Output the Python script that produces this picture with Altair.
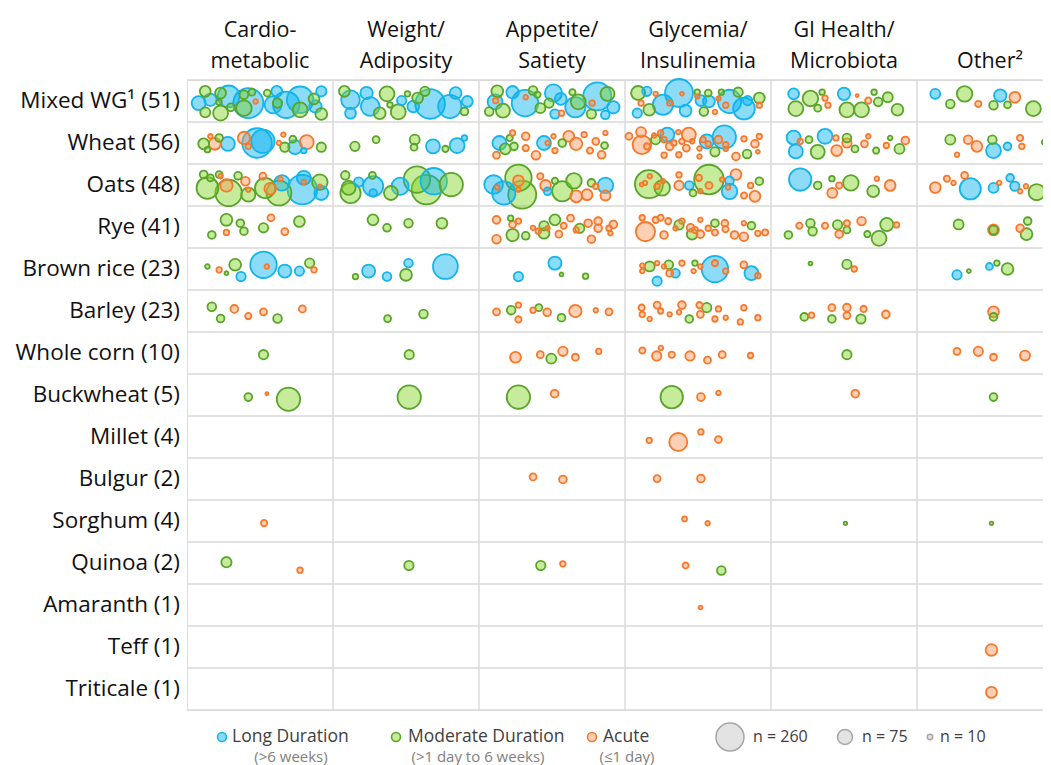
import altair as alt
import pandas as pd

# ---------------- data ----------------
grains = ["Mixed WG¹", "Wheat", "Oats", "Rye", "Brown rice", "Barley", "Whole corn",
          "Buckwheat", "Millet", "Bulgur", "Sorghum", "Quinoa", "Amaranth", "Teff", "Triticale"]
study_counts = [51, 56, 48, 41, 23, 23, 10, 5, 4, 2, 4, 2, 1, 1, 1]
outcomes = ["Cardio-\nmetabolic", "Weight/\nAdiposity", "Appetite/\nSatiety",
            "Glycemia/\nInsulinemia", "GI Health/\nMicrobiota", "Other²"]
durations = ["L", "M", "A"]
duration_labels = ["Long Duration", "Moderate Duration", "Acute"]
duration_notes = ["(>6 weeks)", "(>1 day to 6 weeks)", "(≤1 day)"]
size_keys = [260, 75, 10]

# each study: (duration, position across cell %, position down row %, n)
cardiometabolic = {
    0: [("M",12.5,27,39),("L",8,55,65),("L",16,47,51),("M",23,31,39),("L",28.5,39,157),("M",23,79,74),
        ("M",12.5,77,33),("M",22,53,10),("M",30,65,20),("L",42,55,300),("M",39,35,25),("M",44.5,29,16),
        ("M",39,67,80),("A",47,51,7),("M",55,31,16),("L",61.5,27,39),("L",59,59,97),("M",62,55,29),
        ("L",68,59,232),("L",77.5,47,232),("M",77.5,71,74),("L",92,27,35),("M",87,45,39),("L",88,63,51),
        ("M",92,81,46)],
    1: [("A",16,34,7),("M",11.4,52,39),("A",19,52,46),("M",22,38,20),("M",14,66,10),("L",28,52,65),
        ("A",39,38,51),("A",42,58,10),("L",48,50,290),("L",52,46,180),("A",66,30,7),("A",63,50,7),
        ("M",67,60,29),("M",72.5,41,16),("L",74,60,65),("A",82,48,65),("M",92,60,29),("L",80,68,10)],
    2: [("M",11.4,25,20),("M",16,33,16),("M",14,57,157),("A",23,29,7),("M",22,25,16),("A",27,51,51),
        ("M",28.5,69,232),("M",35,28,20),("A",40,41,25),("A",42,61,7),("M",42,73,65),("A",52,29,16),
        ("M",53.5,57,136),("A",57,59,46),("M",63,69,205),("L",65,45,80),("A",64,36,7),("L",79,61,290),
        ("A",80,43,7),("M",91,43,80),("A",91,53,5),("L",92,69,65),("L",80,33,65)],
    3: [("M",27,33,46),("M",36.5,41,20),("M",39,60,20),("A",27,63,10),("M",17,69,20),("A",57.5,28,16),
        ("M",52.4,52,29),("A",67,61,16),("M",77,37,39)],
    4: [("M",14,44,7),("A",22,52,10),("M",27,60,5),("M",33,40,46),("L",37,68,29),("L",52.4,40,232),
        ("A",54.7,44,7),("L",67,55,57),("L",77,55,29),("M",84,36,29),("A",87,52,10)],
    5: [("M",17,40,25),("M",23,68,20),("A",32.4,45,20),("A",42,62,13),("A",52.4,52,16),("M",62,68,25),
        ("A",79,45,16)],
    6: [("M",52.4,54,29)],
    7: [("M",42,55,20),("A",54.7,47,3),("M",69.5,60,180)],
    10: [("A",52.8,55,13)],
    11: [("M",27,48,35),("A",77.4,67,10)],
}

weight = {
    0: [("M",7.8,27,39),("L",12,47,116),("L",12,79,39),("L",23,31,51),("L",25.5,63,116),("M",32,79,46),
        ("M",37,33,74),("M",39,59,10),("M",44.7,76,74),("L",47,49,29),("M",51,33,10),("L",55,63,46),
        ("M",58,43,39),("M",63,27,29),("L",66.5,57,290),("L",80,63,180),("L",84,31,46),("L",92,51,39),
        ("M",90,75,20)],
    1: [("M",15,58,29),("M",29.5,42,16),("M",56,42,33),("M",55.5,60,16),("L",68.5,58,65),("M",77,64,13),
        ("L",85,56,74),("L",90,38,10)],
    2: [("M",8.4,27,25),("M",12,69,136),("L",17.6,43,29),("M",10.7,57,65),("L",27.5,53,136),("L",27.5,69,20),
        ("M",27,27,16),("M",39.7,69,65),("L",46,53,97),("M",57.5,37,232),("L",69,41,232),("M",64,61,290),
        ("M",81,49,180)],
    3: [("M",27.4,33,39),("M",37,52,20),("M",51.7,41,25),("M",74.6,41,39)],
    4: [("M",15.4,68,10),("L",24.4,55,57),("L",37,68,25),("L",51.7,36,25),("M",50,64,46),("L",77,44,205)],
    5: [("M",37.4,68,16),("M",62,57,25)],
    6: [("M",52.2,54,29)],
    7: [("M",52.2,55,180)],
    11: [("M",52,56,29)],
}

appetite = {
    0: [("M",12.5,27,46),("L",11,52,74),("A",11.4,49,10),("M",7,75,25),("M",16.4,73,65),("L",23,29,51),
        ("L",31.5,55,232),("A",32,41,7),("M",37,25,25),("M",40,35,13),("M",42,67,33),("L",51,31,97),
        ("M",48,55,29),("L",52,81,29),("L",56,45,46),("A",56.5,79,10),("M",64,29,13),("L",66,65,136),
        ("M",68,52,74),("L",81,39,260),("A",77.5,55,10),("M",88,33,65),("L",92,65,51),("L",86.5,83,25),
        ("M",77,81,29)],
    1: [("A",23,26,10),("M",21,38,13),("L",14,50,65),("M",18,64,39),("M",24,58,20),("A",12,79,16),
        ("A",32,34,20),("A",32,62,13),("A",39,79,25),("L",44.5,50,65),("A",47,50,7),("A",51,34,7),
        ("A",52,68,10),("M",57,50,20),("A",61.5,34,39),("A",66.5,52,51),("A",72,30,10),("A",76,68,13),
        ("A",80,46,16),("A",86.6,26,7),("M",86,56,16),("A",84,78,20)],
    2: [("L",10,49,116),("L",17,69,180),("A",12.5,56,7),("M",27,33,232),("A",27,40,39),("A",27,61,7),
        ("M",29.6,73,260),("A",42,29,13),("A",45.6,51,39),("L",47,65,20),("M",52,40,13),("M",57,65,136),
        ("M",65,40,80),("A",66.6,77,46),("A",74,73,39),("M",77,45,20),("A",80,53,10),("L",86.6,51,80),
        ("A",86.6,75,33)],
    3: [("A",12,33,20),("M",21.7,29,10),("A",23,44,16),("A",27,36,10),("A",12,79,25),("M",23,69,51),
        ("M",32,71,20),("A",37,52,7),("A",40.6,60,10),("M",44.5,47,29),("M",44.5,65,39),("A",47,53,7),
        ("M",52,33,39),("A",54.7,67,16),("A",58,47,13),("A",62.7,29,16),("A",66.6,57,10),("M",69,53,29),
        ("A",74.8,41,20),("A",81.6,36,20),("A",81.6,53,20),("A",77,79,20),("A",89,53,10),("A",90,65,7),
        ("A",92,44,20)],
    4: [("L",27,68,29),("L",52,36,57),("M",56.5,63,5),("M",73,67,10)],
    5: [("A",12,52,16),("M",22,48,25),("A",27,36,10),("A",27,70,13),("A",37,48,10),("M",41,42,16),
        ("A",46.7,53,20),("M",56.5,66,20),("A",66,50,51),("A",80,48,7),("A",89,52,16)],
    6: [("A",25,60,39),("A",42,54,16),("M",49.5,63.5,33),("A",57.5,46,29),("A",66,60,16),("A",82,46,10)],
    7: [("M",27,55,180),("A",51.8,47,20)],
    9: [("A",37,45,16),("A",57.5,51,20)],
    11: [("M",42.3,56,29),("A",57.4,52,10)],
}

glycemia = {
    0: [("M",9,31,65),("L",15,27,29),("A",11,55,10),("M",16.6,71,46),("L",8.4,79,29),("A",21,33,7),
        ("L",26,59,136),("A",30.6,55,10),("L",37,31,260),("A",39,33,5),("L",41.5,73,46),("M",49.5,29,10),
        ("M",57,31,16),("L",52,49,39),("L",57.5,51,46),("M",54,75,25),("A",49.5,39,7),("M",66,29,10),
        ("A",64,44,7),("A",61.6,76,7),("L",71.6,51,180),("A",69,60,10),("M",77.5,29,29),("L",81.5,68,157),
        ("L",84,49,29),("M",92,43,39),("A",92,60,10)],
    1: [("A",11,24,33),("A",2.7,34,16),("A",11.6,54,116),("A",15,58,13),("M",21,42,29),("A",24.4,26,10),
        ("A",20,32,7),("L",29,30,65),("A",26.8,42,10),("A",30.6,58,20),("A",33.5,50,10),("A",26.8,79,10),
        ("A",36.5,24,7),("A",43.7,30,65),("A",39,46,10),("A",42,62,16),("A",36.9,78,10),("A",46,46,7),
        ("A",51,63,7),("A",51,82,7),("L",56,46,65),("A",53.5,42,10),("A",57,52,10),("L",68,36,180),
        ("A",64,42,20),("A",69,54,10),("A",69,64,7),("M",61.6,71,29),("A",76,82,20),("A",81.5,40,10),
        ("A",89,52,20),("A",92,34,10),("M",83.6,76,25),("A",91,71,5)],
    2: [("M",16.4,48,260),("A",17,29,7),("A",13.7,45,7),("A",11.4,49,5),("A",22,53,10),("M",25.5,57,80),
        ("A",26,41,7),("A",37,26,10),("A",37,51,29),("L",44,51,25),("M",57.5,37,290),("A",50.6,33,13),
        ("A",57.5,51,16),("A",51.6,65,7),("M",46.6,69,16),("A",66.5,37,7),("L",71.6,40,25),("L",71.6,65,80),
        ("A",76,25,39),("A",70.6,56,7),("A",81.5,75,13),("A",86,51,10),("M",92,41,20),("A",89,77,39)],
    3: [("A",11.8,28,10),("A",14,61,123),("A",21,33,13),("A",24.4,28,13),("A",26.7,69,20),("A",29.6,36,13),
        ("M",37,45,29),("A",34.6,53,7),("A",39,36,10),("A",44.9,52,20),("M",46,67,39),("A",47.9,57,13),
        ("A",51.6,33,7),("A",51.6,67,20),("A",57,53,10),("M",61.6,41,20),("A",61.6,63,13),("A",68.4,41,16),
        ("A",68.8,55,13),("A",75,69,20),("A",81.4,73,25),("A",81.4,41,7),("M",86.6,47,20),("A",91,65,10),
        ("A",96,63,13)],
    4: [("A",11.8,42,7),("A",11.8,55,7),("M",16.9,44,33),("A",22,36,7),("M",30,40,25),("A",26.7,44,7),
        ("A",30.6,60,16),("L",34.6,60,25),("L",22,79,29),("A",39,36,10),("M",47.9,36,10),("A",47,55,7),
        ("A",51.6,44,7),("L",61.6,50,232),("A",61.6,36,13),("A",69,55,10),("A",81.4,40,16),("L",86.6,60,65),
        ("A",91,66,10)],
    5: [("A",11.4,42,13),("A",11.8,58,10),("A",16.9,69,7),("A",22,36,16),("A",24.4,50,10),("A",30.6,58,7),
        ("A",37,53,7),("A",39,36,20),("M",44,69,20),("A",51,36,13),("A",51.6,58,16),("M",56,42,29),
        ("A",61.6,69,10),("A",64,45,10),("A",69,66,7),("A",79,76,10),("A",81.4,42,10),("A",91,66,10)],
    6: [("A",11.9,44,13),("A",24.6,38,7),("A",21.7,57,29),("A",32,54,13),("A",44.5,57,29),("A",56.5,67,16),
        ("A",66.6,54,16),("A",86,56,10)],
    7: [("M",32,55,166),("A",52,55,20),("A",64,45,7)],
    8: [("A",16.6,58,10),("A",36.5,62,108),("A",52,38,10),("A",64,56,16)],
    9: [("A",22,49,16),("A",52,49,20)],
    10: [("A",40.8,45,8),("A",56.6,55.5,7)],
    11: [("A",41.5,56,12),("M",66,68,25)],
    12: [("A",51.7,56,5)],
}

gi_health = {
    0: [("L",15.5,33,39),("M",17,68,74),("M",27,44,80),("M",32,67,16),("M",35,29,10),("A",37,43,10),
        ("A",39,60,10),("L",50,33,51),("M",52,71,74),("A",59,37,3),("M",62,71,74),("A",66.6,49,13),
        ("M",70.6,29,10),("M",73.4,52,25),("M",80,41,33),("M",86.6,71,46)],
    1: [("L",15.5,37,65),("L",17,70,65),("A",20,46,10),("M",26,42,16),("L",37,34,74),("M",32,71,65),
        ("A",44.5,38,10),("M",52,38,25),("A",52,50,29),("A",45,68,39),("M",57.5,64,16),("A",64,52,16),
        ("A",66.6,34,7),("M",72,68,13),("A",79,56,10),("M",81.6,38,7),("M",88,64,33),("A",92,44,20)],
    2: [("L",20,37,166),("M",32,51,20),("M",41.7,35,10),("A",46.7,51,13),("A",42,69,33),("M",54.7,45,80),
        ("M",70,65,46),("A",72.5,35,7),("A",81.6,51,39)],
    3: [("M",11.9,69,20),("A",19.4,47,13),("M",27,41,25),("M",28.5,60,25),("A",37,47,13),("M",45.6,45,29),
        ("A",52,41,13),("M",52,57,16),("A",46.7,67,20),("A",62,36,25),("M",66,67,13),("M",79.3,44,57),
        ("M",74,77,74),("A",86,45,10)],
    4: [("M",27,37,5),("M",52,39,29),("A",57,50,10)],
    5: [("M",22.8,64,20),("A",27.8,60,10),("A",41.7,42,16),("M",41.7,69,20),("A",52,42,20),("A",52,61,16),
        ("A",63.4,45,13),("M",61.6,69,29),("A",78.7,58,20)],
    6: [("M",52,54,29)],
    7: [("A",57.7,47,20)],
    10: [("M",51,55.5,4)],
}

other = {
    0: [("L",12.5,33,33),("M",22.8,57,25),("M",32.6,33,80),("A",42,57,13),("M",52.4,60,25),("L",57,37,51),
        ("M",62,59,16),("A",67,41,39),("M",79.7,68,74)],
    1: [("M",22.8,42,33),("A",27.4,78,7),("A",35,42,25),("A",41,58,39),("M",51.6,42,25),("L",52.4,68,74),
        ("L",62,58,20),("A",70.6,38,13),("A",71.8,58,10),("M",87,48,7)],
    2: [("A",12.5,56,39),("A",20.5,35,13),("A",25,45,7),("A",32.6,27,16),("L",36.5,59,148),("L",52.4,57,33),
        ("A",56.3,45,7),("L",63.8,33,20),("L",67,53,29),("A",70.6,65,7),("A",74.6,53,7),("M",82,67,87)],
    3: [("M",28.5,44,33),("M",52.4,57,25),("A",52.4,57,39),("A",70.6,53,20),("M",75.8,36,20),("M",75,67,46)],
    4: [("L",27.4,64,29),("M",35.5,55,5),("L",49.6,44,16),("M",54.7,36,10),("M",62,50,46)],
    5: [("A",52.4,52,39),("M",52.4,64,20)],
    6: [("A",27.4,46,16),("A",42,46,29),("A",52.4,60,16),("A",74,56,33)],
    7: [("M",52.4,55,20)],
    10: [("M",51,55.5,4)],
    13: [("A",51,57,45)],
    14: [("A",51,58,40)],
}

# ---------------- tables ----------------
records = []
for ci, table in enumerate([cardiometabolic, weight, appetite, glycemia, gi_health, other]):
    for ri, items in table.items():
        for dur, xp, yp, n in items:
            records.append({"outcome": outcomes[ci].replace("\n", ""), "grain": grains[ri],
                            "col": ci, "row": ri, "dur": dur, "xp": xp, "yp": yp, "n": n})
studies = pd.DataFrame(records).sort_values("n", ascending=False, kind="stable")

row_df = pd.DataFrame({"label": [f"{g} ({c})" for g, c in zip(grains, study_counts)],
                       "r": [i + 0.5 for i in range(len(grains))]})
# single-line headers sit on the second header line
col_df = pd.DataFrame({"label": [o if "\n" in o else "\n" + o for o in outcomes],
                       "c": [i + 0.5 for i in range(len(outcomes))]})
hlines = pd.DataFrame({"b": list(range(len(grains) + 1))})
vlines = pd.DataFrame({"b": list(range(1, len(outcomes)))})

# ---------------- layout / style ----------------
COLW, ROWH = 146, 42
PAD_L, PAD_T = 179, 72
CANVAS_W, CANVAS_H = 1035, 762
W = CANVAS_W - PAD_L
H = round(ROWH * len(grains))
FONT = "Open Sans"
GRID = "#d9d9d9"
TXT = "#111111"

xs = alt.Scale(domain=[0, W / COLW], nice=False, zero=False)
ys = alt.Scale(domain=[0, len(grains)], nice=False, zero=False, reverse=True)
size_scale = alt.Scale(domain=[0, 260], range=[0, 784], zero=True)
fill_scale = alt.Scale(domain=durations, range=["#00b0f0", "#7ed321", "#fb975b"])
stroke_scale = alt.Scale(domain=durations, range=["#15b4ea", "#5aa42b", "#f8782a"])

h_rules = alt.Chart(hlines).mark_rule(color=GRID, strokeWidth=1.7).encode(
    y=alt.Y("b:Q", scale=ys, axis=None), x=alt.value(0), x2=alt.value(W))
v_rules = alt.Chart(vlines).mark_rule(color=GRID, strokeWidth=1.4).encode(
    x=alt.X("b:Q", scale=xs, axis=None), y=alt.value(0), y2=alt.value(H))

bubbles = alt.Chart(studies).transform_calculate(
    xpos="datum.col + datum.xp / 100", ypos="datum.row + datum.yp / 100"
).mark_point(shape="circle", filled=True, fillOpacity=0.45, strokeOpacity=1,
             strokeWidth=1.8, opacity=1).encode(
    x=alt.X("xpos:Q", scale=xs, axis=None),
    y=alt.Y("ypos:Q", scale=ys, axis=None),
    size=alt.Size("n:Q", scale=size_scale, legend=None),
    fill=alt.Fill("dur:N", scale=fill_scale, legend=None),
    stroke=alt.Stroke("dur:N", scale=stroke_scale, legend=None),
)

row_labels = alt.Chart(row_df).mark_text(
    align="right", baseline="middle", font=FONT, fontSize=22.5, color=TXT).encode(
    y=alt.Y("r:Q", scale=ys, axis=None), x=alt.value(-7), text="label:N")

col_labels = alt.Chart(col_df).mark_text(
    align="center", baseline="alphabetic", font=FONT, fontSize=21.5, lineHeight=31,
    lineBreak="\n", color=TXT).encode(
    x=alt.X("c:Q", scale=xs, axis=None), y=alt.value(-43), text="label:N")

# legend (custom, below the grid)
LEG_Y = H + 27
leg_sym_x = [35, 209, 405]
leg_lab_x = [45, 221, 416]
leg_note_x = [104, 291, 440]
layers = []
for i, d in enumerate(durations):
    one = pd.DataFrame({"dur": [d], "label": [duration_labels[i]], "note": [duration_notes[i]]})
    base = alt.Chart(one)
    layers.append(base.mark_point(shape="circle", filled=True, fillOpacity=0.45, strokeOpacity=1,
                                  strokeWidth=1.6, opacity=1, size=80).encode(
        x=alt.value(leg_sym_x[i]), y=alt.value(LEG_Y),
        fill=alt.Fill("dur:N", scale=fill_scale, legend=None),
        stroke=alt.Stroke("dur:N", scale=stroke_scale, legend=None)))
    layers.append(base.mark_text(align="left", baseline="middle", font=FONT, fontSize=17.5,
                                 color="#404040").encode(
        x=alt.value(leg_lab_x[i]), y=alt.value(LEG_Y), text="label:N"))
    layers.append(base.mark_text(align="center", baseline="middle", font=FONT, fontSize=15,
                                 color="#808080").encode(
        x=alt.value(leg_note_x[i]), y=alt.value(LEG_Y + 20), text="note:N"))

size_sym_x = [543, 658, 743]
size_lab_x = [566, 675, 753]
for i, n in enumerate(size_keys):
    one = pd.DataFrame({"n": [n], "label": [f"n = {n}"]})
    base = alt.Chart(one)
    layers.append(base.mark_point(shape="circle", filled=True, fill="#e3e3e3", stroke="#a6a6a6",
                                  strokeWidth=1.5, opacity=1, fillOpacity=1).encode(
        x=alt.value(size_sym_x[i]), y=alt.value(LEG_Y),
        size=alt.Size("n:Q", scale=size_scale, legend=None)))
    layers.append(base.mark_text(align="left", baseline="middle", font=FONT, fontSize=16,
                                 color="#404040").encode(
        x=alt.value(size_lab_x[i]), y=alt.value(LEG_Y), text="label:N"))

chart = alt.layer(h_rules, v_rules, bubbles, row_labels, col_labels, *layers).properties(
    width=W, height=H,
    autosize=alt.AutoSizeParams(type="none"),
    padding={"left": PAD_L, "top": PAD_T, "right": CANVAS_W - PAD_L - W,
             "bottom": CANVAS_H - PAD_T - H},
).configure_view(stroke=None).configure(background="white")

chart.save("out.html", embed_options={"renderer": "svg", "actions": False})
